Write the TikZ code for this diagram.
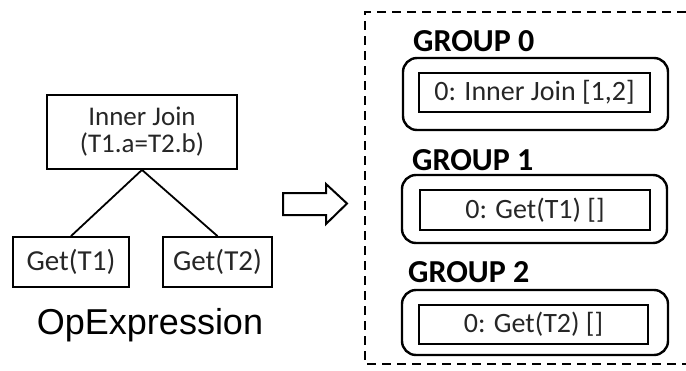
\documentclass[tikz,border=0pt]{standalone}
\usepackage{fontspec}
\setmainfont{Carlito}
\newfontfamily\arialf{Liberation Sans}
\begin{document}
\begin{tikzpicture}[x=1pt,y=-1pt,
  opbox/.style={draw=black,line width=1.8pt,inner sep=0pt,align=center},
  grpbox/.style={draw=black,line width=2.4pt,rounded corners=14pt,inner sep=0pt},
  exprbox/.style={draw=black,line width=2.6pt,inner sep=0pt,font=\fontsize{28}{24}\selectfont,text=black!85},
  grplabel/.style={anchor=base west,inner sep=0pt,font=\bfseries\fontsize{32}{32}\selectfont},
  edge/.style={line width=1.8pt}]
\useasboundingbox (0,0) rectangle (686,370);
% left tree
\node[opbox,minimum width=190pt,minimum height=74pt,font=\fontsize{27}{27}\selectfont,text=black!85] (join) at (142,132) {Inner Join\\(T1.a=T2.b)};
\node[opbox,minimum width=116pt,minimum height=50pt,font=\fontsize{29}{29}\selectfont,text=black!85] (get1) at (71,262) {Get(T1)};
\node[opbox,minimum width=109pt,minimum height=50pt,font=\fontsize{29}{29}\selectfont,text=black!85] (get2) at (217.5,262) {Get(T2)};
\draw[edge] (join.south) -- (get1.north);
\draw[edge] (join.south) -- (get2.north);
\node[anchor=base,inner sep=0pt,font=\arialf\fontsize{36}{36}\selectfont] (opx) at (150,334) {OpExpression};
% hollow arrow
\draw[line width=2pt,line join=miter] (283,193) -- (326,193) -- (326,184) -- (347,203.5) -- (326,224) -- (326,215) -- (283,215) -- cycle;
% dashed memo box
\draw[line width=2pt,dash pattern=on 9pt off 6pt] (686,12) -- (365,12) -- (365,364) -- (686,364);
% groups
\node[grplabel] (l0) at (413,51.5) {GROUP 0};
\node[grpbox,minimum width=265pt,minimum height=72pt] (g0) at (535.5,94) {};
\node[exprbox,minimum width=231pt,minimum height=39pt] (e0) at (534.5,92.5) {0: Inner Join [1,2]};
\node[grplabel] (l1) at (412,170) {GROUP 1};
\node[grpbox,minimum width=265pt,minimum height=68pt] (g1) at (534.5,209) {};
\node[exprbox,minimum width=230pt,minimum height=40pt] (e1) at (535,210) {0: Get(T1) []};
\node[grplabel] (l2) at (408,282) {GROUP 2};
\node[grpbox,minimum width=266pt,minimum height=65pt] (g2) at (535,322.5) {};
\node[exprbox,minimum width=229pt,minimum height=39pt] (e2) at (533.5,324.5) {0: Get(T2) []};
\end{tikzpicture}
\end{document}
